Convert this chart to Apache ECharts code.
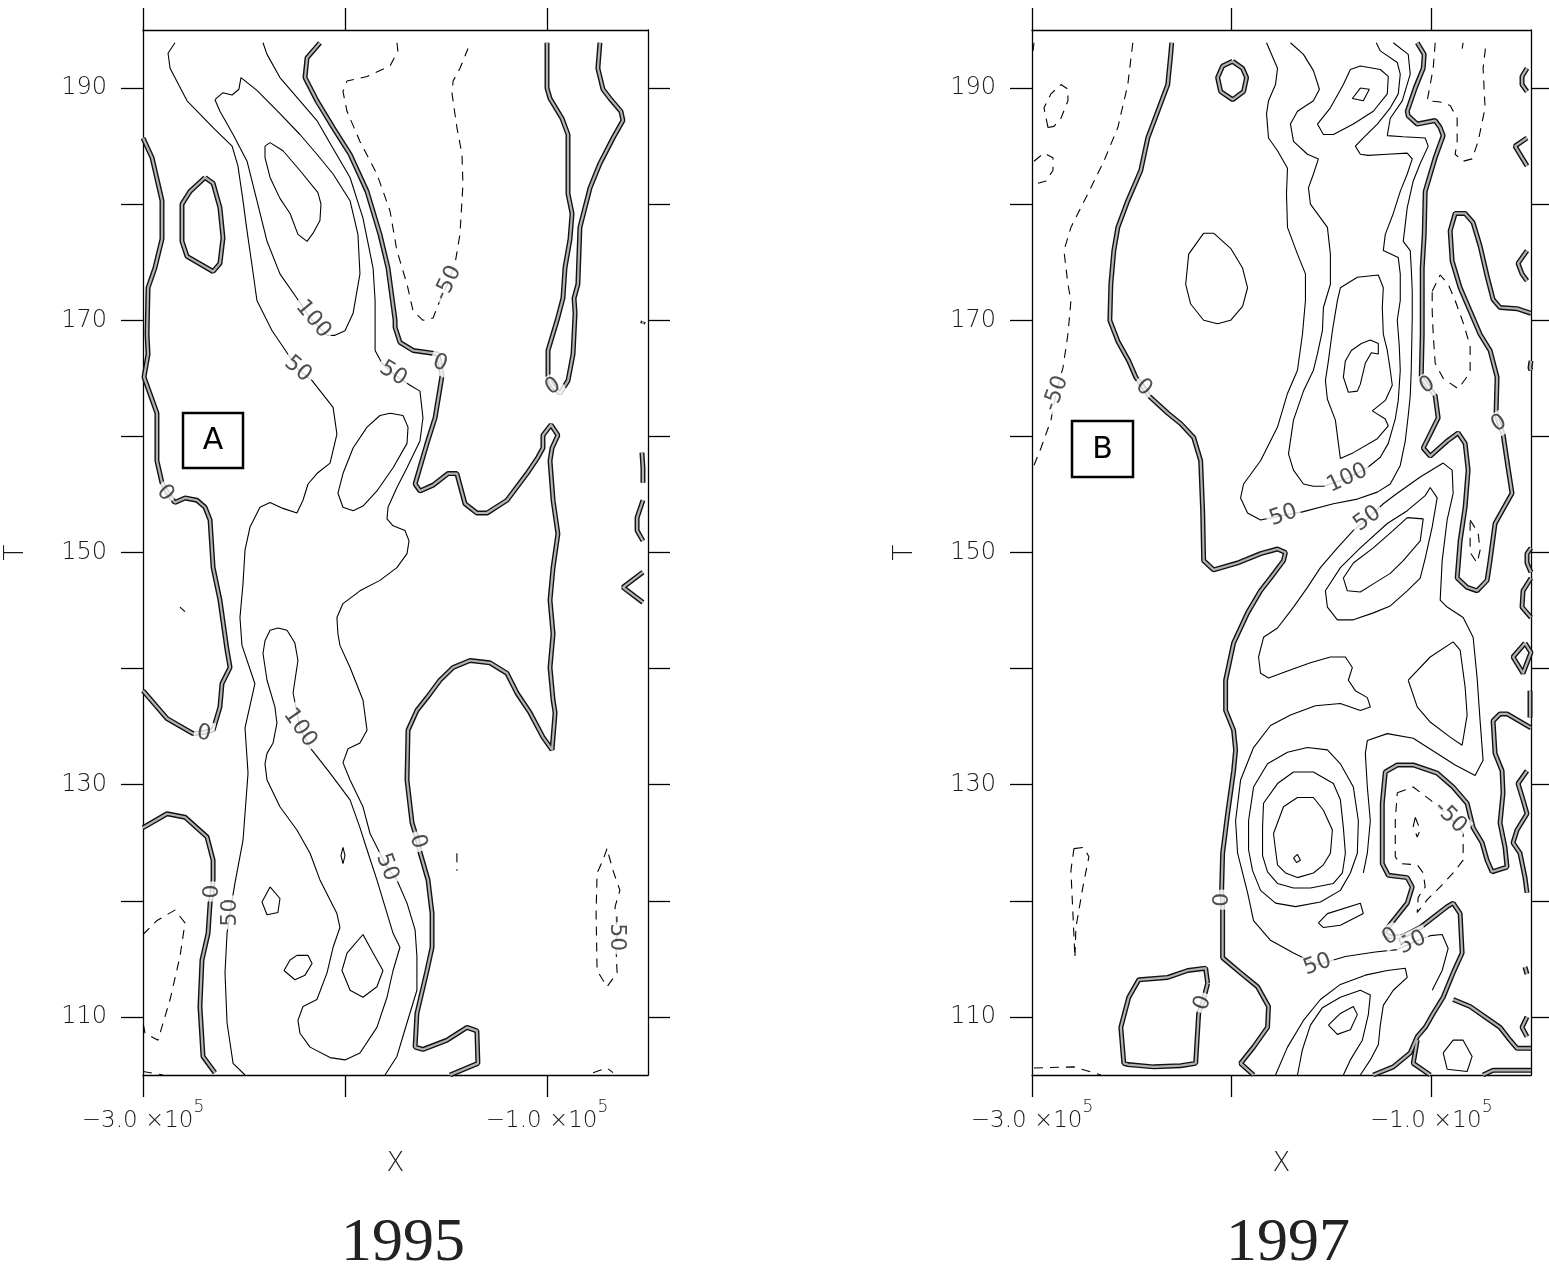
<!DOCTYPE html>
<html>
<head>
<meta charset="utf-8">
<script src="https://cdn.jsdelivr.net/npm/echarts@6/dist/echarts.min.js"></script>
<style>
  html, body { margin: 0; padding: 0; background: #fff; }
  #chart { width: 1549px; height: 1265px; }
</style>
</head>
<body>
<div id="chart"></div>
<script>
// axes: X in units of 1e5, T
const xTicks = [-3, -2, -1]
const xTickLabels = [-3, -1]
const tTicks = [110, 120, 130, 140, 150, 160, 170, 180, 190]
const tTickLabels = [110, 130, 150, 170, 190]
const panelYears = ['1995', '1997']
const panelTags = ['A', 'B']

// ---------- 1995 contours ----------
// zero contour (double line)
const zero95West = [[-3.00,185.7],[-2.955,184.0],[-2.906,180.3],[-2.906,177.0],[-2.941,174.5],[-2.975,172.8],[-2.98,168.8],[-2.975,167.1],[-2.995,165.1],[-2.931,162.0],[-2.931,157.9],[-2.906,156.0],[-2.881,155.2],[-2.842,154.3],[-2.792,154.7],[-2.733,154.5],[-2.693,153.9],[-2.668,152.8],[-2.653,148.7],[-2.619,145.9],[-2.584,141.6],[-2.569,140.1],[-2.609,138.7],[-2.619,136.7],[-2.653,134.7],[-2.703,134.5],[-2.752,134.4],[-2.881,135.7],[-3.00,138.1]]
const zero95Isle = [[-2.693,182.3],[-2.653,181.8],[-2.619,179.7],[-2.604,177.1],[-2.619,174.9],[-2.653,174.2],[-2.782,175.5],[-2.807,176.8],[-2.807,180.0],[-2.767,181.1],[-2.693,182.3]]
const zero95Mid = [[-2.124,193.9],[-2.188,192.6],[-2.198,190.9],[-2.139,188.9],[-2.059,186.6],[-1.975,184.3],[-1.891,181.1],[-1.827,177.4],[-1.787,174.5],[-1.752,170.0],[-1.752,169.4],[-1.728,168.1],[-1.663,167.4],[-1.540,167.1],[-1.530,166.3],[-1.520,165.2],[-1.554,161.6],[-1.594,159.4],[-1.653,155.9],[-1.629,155.3],[-1.564,155.8],[-1.490,156.8],[-1.446,156.8],[-1.406,154.2],[-1.347,153.4],[-1.297,153.4],[-1.198,154.5],[-1.099,156.8],[-1.045,158.2],[-1.020,159.0],[-1.020,160.1],[-0.980,161.0],[-0.946,160.1],[-0.975,159.0],[-0.985,157.9],[-0.970,154.5],[-0.946,151.6],[-0.970,148.7],[-0.985,145.9],[-0.970,143.0],[-0.985,140.1],[-0.970,137.3],[-0.960,136.2],[-0.975,133.0],[-1.020,134.1],[-1.084,136.2],[-1.149,137.9],[-1.198,139.6],[-1.282,140.5],[-1.381,140.7],[-1.465,140.1],[-1.530,139.0],[-1.594,137.5],[-1.644,136.4],[-1.688,134.7],[-1.693,130.4],[-1.668,126.7],[-1.639,125.1],[-1.629,124.2],[-1.589,121.8],[-1.569,118.9],[-1.569,116.0],[-1.594,114.0],[-1.644,110.3],[-1.653,107.4],[-1.614,107.2],[-1.495,108.0],[-1.396,109.1],[-1.347,108.8],[-1.342,106.0],[-1.480,105.0]]
const zero95East = [[-1.0,193.9],[-1.0,190.0],[-0.985,189.1],[-0.926,187.4],[-0.896,186.0],[-0.896,180.9],[-0.876,179.2],[-0.886,177.0],[-0.911,174.5],[-0.921,171.9],[-0.950,170.0],[-0.995,167.4],[-0.995,165.1],[-0.970,164.3],[-0.936,163.7],[-0.896,164.8],[-0.871,167.1],[-0.861,170.6],[-0.866,171.9],[-0.847,173.1],[-0.837,178.0],[-0.787,181.4],[-0.738,183.5],[-0.673,185.7],[-0.624,187.2],[-0.634,188.0],[-0.688,189.1],[-0.723,189.9],[-0.748,191.7],[-0.738,193.9]]
const zero95SouthWest = [[-3.0,126.3],[-2.881,127.5],[-2.792,127.2],[-2.683,125.5],[-2.653,123.5],[-2.653,121.8],[-2.658,120.8],[-2.668,119.8],[-2.678,117.2],[-2.708,114.9],[-2.718,110.9],[-2.703,106.6],[-2.644,105.2]]
const zero95Bit1 = [[-0.530,158.6],[-0.525,157.3],[-0.525,156.0]]
const zero95Bit2 = [[-0.525,154.5],[-0.554,153.0],[-0.554,151.9],[-0.525,151.0]]
const zero95Bit3 = [[-0.525,148.3],[-0.624,147.0],[-0.525,145.7]]
const zero95Dot = [[-0.523,169.9],[-0.527,169.7]]

// positive contours (50, 100, 150)
const pos95West = [[-2.842,193.9],[-2.876,193.0],[-2.866,191.7],[-2.782,188.9],[-2.653,186.6],[-2.559,185.0],[-2.530,183.3],[-2.505,180.3],[-2.485,177.7],[-2.460,174.7],[-2.436,171.7],[-2.361,169.1],[-2.287,167.2],[-2.233,165.8],[-2.163,164.8],[-2.059,162.5],[-2.040,160.2],[-2.074,157.7],[-2.139,156.8],[-2.183,155.9],[-2.208,154.5],[-2.238,153.4],[-2.307,153.8],[-2.371,154.3],[-2.421,153.9],[-2.470,152.2],[-2.495,150.2],[-2.505,147.3],[-2.520,144.4],[-2.510,142.0],[-2.446,138.7],[-2.495,134.9],[-2.480,131.0],[-2.505,125.2],[-2.545,121.5],[-2.569,119.0],[-2.584,117.2],[-2.594,113.8],[-2.584,109.5],[-2.554,106.0],[-2.495,105.0]]
const pos95NorthRing = [[-2.644,189.0],[-2.604,189.6],[-2.559,189.4],[-2.525,189.9],[-2.515,190.9],[-2.436,189.8],[-2.322,187.8],[-2.223,186.0],[-2.139,184.3],[-2.059,182.6],[-1.975,180.3],[-1.936,177.4],[-1.926,174.0],[-1.960,170.6],[-2.0,169.1],[-2.050,168.7],[-2.089,168.7],[-2.173,170.2],[-2.238,171.9],[-2.322,174.0],[-2.386,176.8],[-2.436,180.3],[-2.485,183.7],[-2.554,186.0],[-2.619,188.0],[-2.644,189.0]]
const pos95NorthCore = [[-2.396,185.0],[-2.371,185.3],[-2.307,184.6],[-2.223,182.9],[-2.134,181.0],[-2.119,180.0],[-2.124,178.6],[-2.158,177.5],[-2.188,176.8],[-2.233,177.4],[-2.272,179.2],[-2.322,180.5],[-2.371,182.3],[-2.396,184.0],[-2.396,185.0]]
const pos95Mid = [[-2.406,193.9],[-2.386,192.9],[-2.322,190.9],[-2.223,188.9],[-2.139,187.2],[-2.059,184.8],[-1.975,182.3],[-1.911,178.8],[-1.861,174.5],[-1.851,171.7],[-1.851,167.4],[-1.817,166.3],[-1.762,165.4],[-1.678,164.4],[-1.629,163.9],[-1.614,161.6],[-1.629,159.6],[-1.693,157.3],[-1.743,155.6],[-1.787,153.9],[-1.792,152.9],[-1.762,152.3],[-1.703,151.9],[-1.683,151.0],[-1.693,149.9],[-1.743,148.7],[-1.827,147.6],[-1.926,146.7],[-2.010,145.6],[-2.040,144.4],[-2.035,143.0],[-2.025,142.0],[-1.975,140.1],[-1.911,137.3],[-1.891,134.7],[-1.926,133.6],[-1.985,133.1],[-2.010,131.9],[-1.975,130.4],[-1.911,128.1],[-1.876,125.8],[-1.792,122.9],[-1.743,121.8],[-1.693,119.8],[-1.653,117.5],[-1.644,115.2],[-1.644,112.3],[-1.693,109.5],[-1.743,106.6],[-1.802,105.0]]
const pos95MidRing = [[-1.777,162.0],[-1.713,161.8],[-1.688,160.8],[-1.693,159.4],[-1.762,157.3],[-1.842,155.3],[-1.911,154.0],[-1.960,153.6],[-2.010,153.9],[-2.035,155.1],[-2.010,156.8],[-1.960,159.0],[-1.891,160.8],[-1.827,161.8],[-1.777,162.0]]
const pos95SouthRing = [[-2.332,143.5],[-2.287,143.3],[-2.248,142.2],[-2.233,140.7],[-2.257,137.9],[-2.223,134.9],[-2.173,133.2],[-2.074,131.0],[-1.975,128.7],[-1.926,126.3],[-1.891,124.4],[-1.842,121.8],[-1.762,117.2],[-1.728,116.0],[-1.762,114.0],[-1.792,111.7],[-1.842,109.1],[-1.926,106.9],[-2.0,106.3],[-2.074,106.5],[-2.173,107.4],[-2.223,108.6],[-2.233,109.7],[-2.208,110.9],[-2.139,111.5],[-2.089,113.8],[-2.059,116.0],[-2.025,117.7],[-2.040,118.9],[-2.124,121.8],[-2.173,124.1],[-2.238,126.1],[-2.322,128.1],[-2.386,130.4],[-2.396,131.8],[-2.386,132.7],[-2.356,133.6],[-2.337,135.3],[-2.347,136.7],[-2.386,139.0],[-2.406,141.3],[-2.396,142.4],[-2.371,143.3],[-2.332,143.5]]
const pos95Spot1 = [[-2.371,121.2],[-2.322,120.2],[-2.332,119.0],[-2.386,118.8],[-2.411,119.9],[-2.371,121.2]]
const pos95Spot2 = [[-2.238,115.3],[-2.183,115.3],[-2.163,114.6],[-2.198,113.6],[-2.248,113.2],[-2.302,114.0],[-2.272,114.9],[-2.238,115.3]]
const pos95Spot3 = [[-1.911,117.1],[-1.861,115.5],[-1.812,114.0],[-1.842,112.6],[-1.911,111.7],[-1.975,112.3],[-2.015,114.0],[-1.990,115.5],[-1.911,117.1]]
const pos95Spot4 = [[-2.010,124.6],[-2.0,123.9],[-2.010,123.2],[-2.020,123.9],[-2.010,124.6]]

// negative contours (-50), dashed
const neg95North = [[-1.743,193.9],[-1.738,193.2],[-1.777,191.9],[-1.891,191.0],[-1.990,190.6],[-2.010,189.7],[-1.990,188.0],[-1.926,185.4],[-1.842,182.6],[-1.777,179.4],[-1.743,176.0],[-1.693,173.1],[-1.663,170.8],[-1.614,170.0],[-1.564,170.2],[-1.530,171.7],[-1.490,173.2],[-1.455,174.9],[-1.431,177.4],[-1.416,181.7],[-1.421,184.3],[-1.446,186.6],[-1.470,189.5],[-1.465,190.6],[-1.431,191.7],[-1.391,193.4]]
const neg95SouthWest = [[-3.0,117.1],[-2.931,118.3],[-2.842,119.2],[-2.792,118.1],[-2.817,115.2],[-2.866,111.5],[-2.926,108.0],[-2.990,108.6],[-3.0,109.5]]
const neg95Corner = [[-3.0,105.3],[-2.901,105.0]]
const neg95SouthEast = [[-0.703,124.5],[-0.723,123.5],[-0.752,122.4],[-0.757,118.9],[-0.752,114.0],[-0.703,112.6],[-0.653,113.8],[-0.658,115.8],[-0.653,117.2],[-0.663,119.5],[-0.639,120.9],[-0.673,122.6],[-0.703,124.5]]
const neg95Edge = [[-0.772,105.2],[-0.703,105.6],[-0.673,105.2]]
const neg95Speck1 = [[-2.817,145.3],[-2.792,144.9]]
const neg95Speck2 = [[-1.446,124.1],[-1.446,122.6]]

// contour labels: x, T, text, rotation
const labels95 = [
  [-2.891, 155.1, '0', -50], [-2.698, 134.4, '0', -10], [-2.233, 165.8, '50', -40],
  [-2.569, 119.0, '50', 90], [-2.158, 170.1, '100', -50], [-1.762, 165.4, '50', -32],
  [-1.792, 122.9, '50', -70], [-2.223, 134.9, '100', -55], [-1.530, 166.3, '0', -20],
  [-1.639, 125.1, '0', -75], [-1.490, 173.2, '-50', 65], [-0.970, 164.3, '0', 30],
  [-2.658, 120.8, '0', 90], [-0.653, 117.2, '-50', -90]
]

// ---------- 1997 contours ----------
const zero97West = [[-2.30,193.9],[-2.305,192.9],[-2.32,190.3],[-2.37,188.0],[-2.42,185.7],[-2.455,182.9],[-2.52,180.3],[-2.57,178.0],[-2.59,176.0],[-2.605,173.1],[-2.61,170.0],[-2.57,168.2],[-2.515,166.5],[-2.48,165.1],[-2.44,164.2],[-2.415,163.5],[-2.32,162.0],[-2.255,161.1],[-2.19,159.9],[-2.155,157.9],[-2.145,153.6],[-2.14,149.3],[-2.09,148.5],[-1.97,149.1],[-1.855,149.9],[-1.77,150.3],[-1.73,150.0],[-1.74,149.3],[-1.805,147.8],[-1.855,146.7],[-1.92,144.8],[-1.99,142.2],[-2.03,139.0],[-2.03,136.4],[-1.99,134.7],[-1.98,133.0],[-1.99,131.2],[-2.02,127.5],[-2.045,124.1],[-2.05,120.9],[-2.045,120.1],[-2.045,119.2],[-2.045,115.1],[-1.955,113.8],[-1.87,112.6],[-1.815,110.9],[-1.82,109.1],[-1.89,107.4],[-1.955,106.0],[-1.89,105.0]]
const zero97Oval = [[-1.995,192.3],[-1.945,191.7],[-1.925,190.9],[-1.94,189.7],[-1.995,189.0],[-2.055,189.7],[-2.07,190.9],[-2.045,191.9],[-1.995,192.3]]
const zero97East = [[-1.07,193.9],[-1.035,192.9],[-1.04,191.7],[-1.08,190.0],[-1.12,188.0],[-1.115,187.6],[-1.07,186.9],[-0.98,187.2],[-0.955,186.6],[-0.94,185.9],[-0.98,184.0],[-1.03,181.1],[-1.035,177.4],[-1.045,174.5],[-1.045,171.7],[-1.045,168.8],[-1.05,165.1],[-1.02,164.4],[-0.98,163.5],[-0.965,161.6],[-1.005,160.2],[-1.04,159.0],[-1.005,158.3],[-0.92,159.6],[-0.865,160.3],[-0.83,159.4],[-0.815,157.1],[-0.83,153.9],[-0.855,151.0],[-0.87,147.8],[-0.82,147.0],[-0.77,146.7],[-0.72,147.6],[-0.705,149.3],[-0.68,152.5],[-0.595,155.1],[-0.615,157.3],[-0.64,160.2],[-0.66,161.1],[-0.675,162.0],[-0.67,165.1],[-0.705,167.4],[-0.755,168.8],[-0.805,170.8],[-0.855,172.8],[-0.895,175.1],[-0.905,177.7],[-0.88,179.2],[-0.83,179.2],[-0.79,178.4],[-0.755,176.4],[-0.72,173.8],[-0.69,171.8],[-0.655,171.1],[-0.57,171.0],[-0.50,170.6]]
const zero97South = [[-1.29,105.0],[-1.19,105.7],[-1.105,106.9],[-1.07,108.3],[-1.03,109.1],[-0.99,110.3],[-0.94,111.7],[-0.89,113.8],[-0.845,115.5],[-0.855,118.9],[-0.89,119.8],[-0.92,119.5],[-1.055,117.7],[-1.145,116.9],[-1.205,116.9],[-1.24,117.2],[-1.19,118.3],[-1.12,119.8],[-1.095,121.2],[-1.12,122.0],[-1.215,122.2],[-1.245,123.2],[-1.245,128.4],[-1.23,131.1],[-1.17,131.7],[-1.09,131.7],[-0.97,131.0],[-0.89,129.8],[-0.82,128.4],[-0.79,126.3],[-0.745,125.0],[-0.72,123.5],[-0.695,122.5],[-0.62,122.9],[-0.63,124.6],[-0.655,126.7],[-0.64,129.3],[-0.645,131.2],[-0.68,132.7],[-0.69,135.5],[-0.655,136.1],[-0.62,136.1],[-0.50,134.9]]
const zero97Spur = [[-1.005,105.0],[-1.09,106.0],[-1.07,108.0]]
const zero97Edge1 = [[-0.89,111.5],[-0.805,110.9],[-0.655,109.1],[-0.605,108.0],[-0.57,107.3],[-0.50,107.3]]
const zero97Edge2 = [[-0.74,105.0],[-0.69,105.4],[-0.50,105.4]]
const zero97Box = [[-2.12,112.9],[-2.13,114.2],[-2.22,114.0],[-2.32,113.4],[-2.465,113.2],[-2.515,111.7],[-2.555,109.1],[-2.54,106.0],[-2.52,105.9],[-2.39,105.7],[-2.255,105.8],[-2.18,106.0],[-2.165,110.3],[-2.145,111.2],[-2.12,112.9]]
const zero97Bit1 = [[-0.52,191.7],[-0.545,191.0],[-0.545,190.3],[-0.52,189.7]]
const zero97Bit2 = [[-0.52,185.7],[-0.58,185.0],[-0.52,183.3]]
const zero97Bit3 = [[-0.52,176.0],[-0.565,174.9],[-0.545,174.0],[-0.52,173.4]]
const zero97Bit4 = [[-0.5,166.5],[-0.505,165.9],[-0.5,165.7]]
const zero97Bit5 = [[-0.5,150.4],[-0.52,149.9],[-0.52,149.1],[-0.5,148.3]]
const zero97Bit6 = [[-0.5,147.8],[-0.54,146.7],[-0.545,145.3],[-0.5,144.4]]
const zero97Bit7 = [[-0.53,142.2],[-0.5,141.4],[-0.54,139.6],[-0.59,141.0],[-0.53,142.2]]
const zero97Bit8 = [[-0.505,138.1],[-0.505,135.8]]
const zero97Bit9 = [[-0.52,131.2],[-0.565,130.1],[-0.54,128.7],[-0.52,127.5],[-0.57,126.1],[-0.59,125.0],[-0.555,124.1],[-0.53,122.0],[-0.52,120.7]]
const zero97Bit10 = [[-0.53,114.3],[-0.52,113.7]]
const zero97Bit11 = [[-0.52,110.0],[-0.545,109.1],[-0.52,108.3]]

const pos97WestOval = [[-2.14,177.5],[-2.09,177.5],[-2.005,176.2],[-1.945,174.5],[-1.92,172.8],[-1.945,171.2],[-2.005,170.0],[-2.07,169.7],[-2.14,170.0],[-2.205,171.4],[-2.23,173.1],[-2.215,175.7],[-2.14,177.5]]
const pos97Outer = [[-1.825,193.9],[-1.77,191.7],[-1.78,190.3],[-1.815,188.9],[-1.825,187.8],[-1.815,185.7],[-1.77,184.6],[-1.72,183.1],[-1.725,180.9],[-1.72,178.0],[-1.67,175.7],[-1.63,174.0],[-1.63,171.7],[-1.645,168.8],[-1.67,165.7],[-1.72,163.7],[-1.77,160.8],[-1.855,157.9],[-1.94,155.9],[-1.955,154.7],[-1.92,153.4],[-1.855,152.8],[-1.74,153.2],[-1.645,153.5],[-1.49,154.2],[-1.37,154.6],[-1.27,155.2],[-1.205,155.9],[-1.155,157.5],[-1.13,159.6],[-1.115,161.8],[-1.105,163.5],[-1.10,165.7],[-1.095,170.2],[-1.095,172.5],[-1.10,174.5],[-1.105,176.0],[-1.14,176.8],[-1.12,179.7],[-1.09,182.0],[-1.055,183.5],[-1.015,185.0],[-1.03,185.7],[-1.14,185.8],[-1.22,185.9],[-1.205,187.4],[-1.145,188.9],[-1.105,191.2],[-1.115,192.9],[-1.19,193.9]]
const pos97Inner = [[-1.705,193.9],[-1.64,192.9],[-1.59,191.5],[-1.56,189.9],[-1.59,188.9],[-1.67,188.0],[-1.705,186.9],[-1.69,185.4],[-1.62,184.3],[-1.565,183.9],[-1.59,182.6],[-1.615,181.4],[-1.605,180.0],[-1.52,178.0],[-1.505,175.7],[-1.505,173.1],[-1.54,171.1],[-1.545,169.1],[-1.57,167.1],[-1.59,165.7],[-1.64,163.9],[-1.69,161.4],[-1.715,158.5],[-1.69,157.1],[-1.64,155.9],[-1.59,155.7],[-1.54,155.7],[-1.42,156.4],[-1.32,157.3],[-1.255,158.2],[-1.215,159.4],[-1.18,161.5],[-1.165,163.1],[-1.155,165.7],[-1.16,167.8],[-1.17,170.0],[-1.155,171.7],[-1.155,174.0],[-1.165,175.4],[-1.24,176.0],[-1.23,177.4],[-1.19,179.2],[-1.155,181.1],[-1.12,182.6],[-1.095,183.9],[-1.12,184.4],[-1.22,184.3],[-1.315,184.2],[-1.355,184.3],[-1.38,185.0],[-1.34,185.7],[-1.27,186.9],[-1.205,188.3],[-1.165,189.5],[-1.155,191.2],[-1.17,192.2],[-1.255,193.2],[-1.275,193.9]]
const pos97Cap = [[-1.405,191.6],[-1.355,191.9],[-1.255,191.6],[-1.215,191.0],[-1.22,189.5],[-1.29,188.0],[-1.39,186.9],[-1.49,186.0],[-1.54,186.0],[-1.57,186.9],[-1.505,188.3],[-1.44,190.3],[-1.405,191.6]]
const pos97CapCore = [[-1.355,190.0],[-1.31,189.9],[-1.34,188.9],[-1.395,189.1],[-1.355,190.0]]
const pos97Lobe = [[-1.47,171.7],[-1.455,172.8],[-1.37,173.7],[-1.265,173.9],[-1.24,172.8],[-1.245,171.1],[-1.24,168.8],[-1.22,167.4],[-1.205,165.7],[-1.195,164.4],[-1.23,163.1],[-1.295,162.2],[-1.23,161.5],[-1.215,160.9],[-1.27,159.8],[-1.39,158.6],[-1.455,158.1],[-1.465,159.4],[-1.48,161.4],[-1.52,163.2],[-1.53,164.8],[-1.515,166.5],[-1.495,169.1],[-1.47,171.7]]
const pos97LobeCore = [[-1.43,166.5],[-1.44,165.1],[-1.415,163.8],[-1.37,163.9],[-1.355,164.5],[-1.33,166.3],[-1.30,167.2],[-1.265,167.1],[-1.265,168.0],[-1.305,168.3],[-1.35,168.0],[-1.40,167.4],[-1.43,166.5]]
const pos97Belt = [[-1.34,122.4],[-1.32,124.1],[-1.305,126.9],[-1.32,129.8],[-1.33,132.7],[-1.32,133.8],[-1.22,134.4],[-1.09,134.0],[-0.98,132.8],[-0.88,131.7],[-0.78,130.8],[-0.74,132.1],[-0.755,135.5],[-0.77,139.2],[-0.79,142.7],[-0.84,144.4],[-0.92,145.3],[-0.955,145.9],[-0.945,149.3],[-0.92,152.8],[-0.89,155.1],[-0.895,157.1],[-0.94,157.7],[-1.055,156.5],[-1.17,155.1],[-1.24,154.2],[-1.32,152.9],[-1.39,151.9],[-1.47,150.4],[-1.555,148.7],[-1.62,147.0],[-1.69,145.3],[-1.77,143.5],[-1.84,142.7],[-1.865,141.0],[-1.855,139.6],[-1.815,139.2],[-1.72,139.8],[-1.605,140.5],[-1.505,141.0],[-1.43,141.0],[-1.395,140.1],[-1.415,139.0],[-1.38,138.1],[-1.32,137.5],[-1.305,136.7],[-1.355,136.4],[-1.455,137.0],[-1.58,136.8],[-1.705,136.0],[-1.805,135.1],[-1.89,133.2],[-1.955,130.4],[-1.98,126.9],[-1.97,124.1],[-1.92,120.7],[-1.89,118.3],[-1.805,116.6],[-1.69,115.5],[-1.57,114.5],[-1.43,115.2],[-1.28,115.6],[-1.17,115.8],[-1.095,116.4],[-1.005,117.0],[-0.945,117.1],[-0.915,115.9],[-0.945,114.0],[-0.995,112.3]]
const pos97Eye1 = [[-1.915,126.9],[-1.89,129.8],[-1.82,131.8],[-1.72,132.8],[-1.62,133.2],[-1.52,133.0],[-1.455,131.8],[-1.39,129.8],[-1.365,126.9],[-1.37,124.1],[-1.405,122.4],[-1.455,120.9],[-1.555,119.9],[-1.68,119.5],[-1.78,119.8],[-1.855,120.9],[-1.895,122.6],[-1.915,124.4],[-1.915,126.9]]
const pos97Eye2 = [[-1.845,126.3],[-1.84,128.4],[-1.77,130.1],[-1.69,131.1],[-1.59,131.1],[-1.49,130.1],[-1.455,128.7],[-1.44,126.3],[-1.43,124.1],[-1.445,122.4],[-1.49,121.5],[-1.605,121.1],[-1.69,121.1],[-1.77,121.5],[-1.82,122.5],[-1.845,123.9],[-1.845,126.3]]
const pos97Eye3 = [[-1.79,125.8],[-1.74,128.1],[-1.67,128.9],[-1.59,128.9],[-1.54,127.8],[-1.495,126.1],[-1.505,124.1],[-1.54,123.1],[-1.59,122.4],[-1.67,122.0],[-1.73,122.4],[-1.77,123.1],[-1.78,124.4],[-1.79,125.8]]
const pos97Eye4 = [[-1.69,123.7],[-1.67,124.0],[-1.655,123.5],[-1.675,123.3],[-1.69,123.7]]
const pos97Sliver = [[-1.565,118.1],[-1.52,118.9],[-1.355,119.8],[-1.34,118.9],[-1.455,117.9],[-1.54,117.7],[-1.565,118.1]]
const pos97Wedge = [[-1.115,139.0],[-1.005,141.0],[-0.89,142.3],[-0.855,141.6],[-0.83,138.4],[-0.82,136.0],[-0.845,133.4],[-0.905,134.1],[-1.005,135.4],[-1.07,136.7],[-1.115,139.0]]
const pos97Diag1 = [[-1.005,155.6],[-0.97,154.7],[-0.995,152.2],[-1.03,149.5],[-1.055,147.8],[-1.12,146.7],[-1.205,145.4],[-1.29,144.8],[-1.39,144.2],[-1.47,144.2],[-1.52,145.3],[-1.53,146.7],[-1.455,148.7],[-1.355,150.4],[-1.22,152.5],[-1.12,153.6],[-1.03,154.9],[-1.005,155.6]]
const pos97Diag2 = [[-1.12,153.0],[-1.04,152.9],[-1.055,151.0],[-1.14,149.3],[-1.205,148.2],[-1.29,147.3],[-1.355,146.6],[-1.42,146.7],[-1.44,147.8],[-1.39,149.1],[-1.29,150.4],[-1.19,151.9],[-1.12,153.0]]
const pos97Fan = [[-1.78,105.0],[-1.72,107.4],[-1.64,109.7],[-1.555,111.5],[-1.455,112.8],[-1.33,113.6],[-1.22,114.0],[-1.13,114.2],[-1.12,113.4],[-1.19,112.3],[-1.24,111.0],[-1.255,109.3],[-1.265,107.6],[-1.305,106.3],[-1.355,105.0]]
const pos97FanCore = [[-1.67,105.0],[-1.645,107.2],[-1.605,109.3],[-1.545,110.8],[-1.455,111.7],[-1.355,112.3],[-1.305,111.9],[-1.315,110.2],[-1.345,108.0],[-1.405,106.3],[-1.44,105.0]]
const pos97FanSpot = [[-1.515,109.3],[-1.455,110.3],[-1.39,110.9],[-1.37,110.2],[-1.405,108.9],[-1.47,108.5],[-1.515,109.3]]
const pos97Knot = [[-0.94,106.9],[-0.89,108.0],[-0.84,108.0],[-0.795,106.6],[-0.82,105.3],[-0.92,105.5],[-0.94,106.9]]

const neg97West = [[-2.495,193.9],[-2.52,190.3],[-2.57,186.6],[-2.64,183.7],[-2.72,180.9],[-2.805,178.0],[-2.84,176.0],[-2.82,173.1],[-2.805,171.7],[-2.82,168.8],[-2.845,165.9],[-2.88,163.7],[-2.905,161.4],[-2.955,159.0],[-2.995,157.3]]
const neg97Corner = [[-2.99,193.9],[-2.995,193.2]]
const neg97Ring1 = [[-2.92,186.6],[-2.94,188.3],[-2.905,189.5],[-2.855,190.3],[-2.82,189.9],[-2.82,188.9],[-2.855,187.4],[-2.89,186.7],[-2.92,186.6]]
const neg97Ring2 = [[-2.99,183.7],[-2.94,184.4],[-2.895,184.0],[-2.895,182.9],[-2.93,182.0],[-2.97,181.8]]
const neg97NorthEast = [[-0.98,193.9],[-0.99,191.7],[-1.02,188.9],[-0.955,188.8],[-0.905,188.5],[-0.87,187.4],[-0.87,185.4],[-0.88,184.3],[-0.84,183.7],[-0.795,183.9],[-0.765,185.4],[-0.73,188.3],[-0.74,191.7],[-0.725,193.9]]
const neg97Tick = [[-0.84,193.9],[-0.845,193.4]]
const neg97Pocket = [[-0.995,172.5],[-0.955,173.9],[-0.915,173.1],[-0.88,171.7],[-0.84,169.8],[-0.805,167.8],[-0.805,165.5],[-0.865,164.1],[-0.94,165.0],[-0.98,166.3],[-0.99,168.8],[-0.995,170.8],[-0.995,172.5]]
const neg97Pocket2 = [[-0.805,152.8],[-0.765,151.7],[-0.755,150.2],[-0.77,149.1],[-0.805,150.0],[-0.805,151.7],[-0.805,152.8]]
const neg97East = [[-1.17,129.3],[-1.09,129.8],[-1.005,128.7],[-0.905,127.2],[-0.84,125.8],[-0.84,123.5],[-0.89,122.4],[-0.955,121.2],[-1.02,120.1],[-1.07,119.0],[-1.065,120.3],[-1.03,121.2],[-1.04,122.4],[-1.07,123.1],[-1.155,123.2],[-1.18,123.8],[-1.18,126.9],[-1.17,129.3]]
const neg97EastCore = [[-1.08,127.2],[-1.055,126.1],[-1.07,125.5],[-1.09,126.4],[-1.08,127.2]]
const neg97Floor = [[-2.99,105.6],[-2.79,105.7],[-2.655,105.0]]
const neg97Sliver = [[-2.79,124.5],[-2.74,124.6],[-2.715,123.8],[-2.745,121.2],[-2.78,117.7],[-2.785,115.1],[-2.795,118.9],[-2.805,122.6],[-2.79,124.5]]

const labels97 = [
  [-2.88, 163.7, '-50', 70], [-2.44, 164.2, '0', -40], [-2.045, 120.1, '0', 90],
  [-1.42, 156.4, '100', 25], [-1.74, 153.2, '50', 20], [-1.32, 152.9, '50', 35],
  [-1.57, 114.5, '50', 20], [-1.095, 116.4, '50', 25], [-1.205, 116.9, '0', 30],
  [-0.905, 127.2, '-50', -45], [-1.02, 164.4, '0', 30], [-0.66, 161.1, '0', 30],
  [-2.145, 111.2, '0', 70]
]

const panels = [
  {
    zero: [zero95West, zero95Isle, zero95Mid, zero95East, zero95SouthWest, zero95Bit1, zero95Bit2, zero95Bit3, zero95Dot],
    pos: [pos95West, pos95NorthRing, pos95NorthCore, pos95Mid, pos95MidRing, pos95SouthRing, pos95Spot1, pos95Spot2, pos95Spot3, pos95Spot4],
    neg: [neg95North, neg95SouthWest, neg95Corner, neg95SouthEast, neg95Edge, neg95Speck1, neg95Speck2],
    labels: labels95
  },
  {
    zero: [zero97West, zero97Oval, zero97East, zero97South, zero97Spur, zero97Edge1, zero97Edge2, zero97Box, zero97Bit1, zero97Bit2, zero97Bit3, zero97Bit4, zero97Bit5, zero97Bit6, zero97Bit7, zero97Bit8, zero97Bit9, zero97Bit10, zero97Bit11],
    pos: [pos97WestOval, pos97Outer, pos97Inner, pos97Cap, pos97CapCore, pos97Lobe, pos97LobeCore, pos97Belt, pos97Eye1, pos97Eye2, pos97Eye3, pos97Eye4, pos97Sliver, pos97Wedge, pos97Diag1, pos97Diag2, pos97Fan, pos97FanCore, pos97FanSpot, pos97Knot],
    neg: [neg97West, neg97Corner, neg97Ring1, neg97Ring2, neg97NorthEast, neg97Tick, neg97Pocket, neg97Pocket2, neg97East, neg97EastCore, neg97Floor, neg97Sliver],
    labels: labels97
  }
]

const font = "'DejaVu Sans', sans-serif"
const ink = '#1a1a1a'

const chart = echarts.init(document.getElementById('chart'), null, { renderer: 'canvas' })

const lineOf = (data, g, style, z) => ({
  type: 'line', xAxisIndex: g * 2, yAxisIndex: g * 2, data,
  symbol: 'none', silent: true, animation: false, z, lineStyle: style
})

// contour label look, also repeated per item so rotation keeps the same style
const contourLabel = {
  show: true, position: 'inside', color: '#222', fontFamily: font, fontWeight: 'normal',
  fontSize: 22, backgroundColor: '#fff', padding: [1, 3]
}

const series = []
panels.forEach((p, g) => {
  p.pos.forEach(d => series.push(lineOf(d, g, { color: '#000', width: 1.1 }, 2)))
  p.neg.forEach(d => series.push(lineOf(d, g, { color: '#000', width: 1.1, type: [9, 7] }, 2)))
  // zero line drawn as a double line: dark body + light core
  p.zero.forEach(d => series.push(lineOf(d, g, { color: '#111', width: 5 }, 3)))
  p.zero.forEach(d => series.push(lineOf(d, g, { color: '#b4b4b4', width: 2.2 }, 4)))
  series.push({
    type: 'scatter', xAxisIndex: g * 2, yAxisIndex: g * 2, symbolSize: 0, silent: true,
    animation: false, z: 6, zlevel: 0,
    label: contourLabel,
    data: p.labels.map(l => ({
      value: [l[0], l[1]],
      label: Object.assign({}, contourLabel, { formatter: l[2], rotate: l[3] })
    }))
  })
})

const grids = [
  { left: 143, top: 30, width: 505, height: 1045 },
  { left: 1032, top: 30, width: 499, height: 1045 }
]

const axisLine = { show: true, onZero: false, lineStyle: { color: '#000', width: 1.3 } }
const tickStyle = { color: '#000', width: 1.3 }
const xAxis = []
const yAxis = []
grids.forEach((gr, g) => {
  xAxis.push({
    type: 'value', gridIndex: g, position: 'bottom', min: -3, max: -0.5,
    axisLine, splitLine: { show: false },
    axisTick: { show: true, customValues: xTicks, length: 22, lineStyle: tickStyle },
    axisLabel: {
      customValues: xTickLabels, margin: 24, showMinLabel: true, hideOverlap: false,
      formatter: v => '{m|−' + Math.abs(v).toFixed(1) + ' ×10}{e|5}',
      rich: {
        m: { fontSize: 23, fontFamily: font, fontWeight: 200, color: ink, lineHeight: 34, verticalAlign: 'bottom' },
        e: { fontSize: 17, fontFamily: font, fontWeight: 200, color: ink, lineHeight: 17, verticalAlign: 'top' }
      }
    },
    name: 'X', nameLocation: 'middle', nameGap: 76,
    nameTextStyle: { fontSize: 26, fontFamily: font, fontWeight: 200, color: ink }
  })
  xAxis.push({
    type: 'value', gridIndex: g, position: 'top', min: -3, max: -0.5,
    axisLine, splitLine: { show: false }, axisLabel: { show: false },
    axisTick: { show: true, customValues: xTicks, length: 22, lineStyle: tickStyle }
  })
  yAxis.push({
    type: 'value', gridIndex: g, position: 'left', min: 105, max: 195,
    axisLine, splitLine: { show: false },
    axisTick: { show: true, customValues: tTicks, length: 22, lineStyle: tickStyle },
    axisLabel: { customValues: tTickLabels, margin: 36, fontSize: 24, fontFamily: font, fontWeight: 200, color: ink },
    name: 'T', nameLocation: 'middle', nameGap: 114, nameRotate: 90,
    nameTextStyle: { fontSize: 26, fontFamily: font, fontWeight: 200, color: ink }
  })
  yAxis.push({
    type: 'value', gridIndex: g, position: 'right', min: 105, max: 195,
    axisLine, splitLine: { show: false }, axisLabel: { show: false },
    axisTick: { show: true, customValues: tTicks, length: 22, lineStyle: tickStyle }
  })
})

const tagBoxes = [[183, 413, 60, 55], [1072, 421, 61, 56]]
const graphic = []
tagBoxes.forEach((b, i) => {
  graphic.push({ type: 'rect', shape: { x: b[0], y: b[1], width: b[2], height: b[3] },
    style: { fill: '#fff', stroke: '#000', lineWidth: 2.5 }, z: 100 })
  graphic.push({ type: 'text', x: b[0] + b[2] / 2, y: b[1] + b[3] / 2 + 1, z: 101,
    style: { text: panelTags[i], fill: '#000', font: '30px ' + font,
      textAlign: 'center', textVerticalAlign: 'middle', align: 'center', verticalAlign: 'middle' } })
})

chart.setOption({
  animation: false,
  backgroundColor: '#fff',
  title: panelYears.map((t, i) => ({
    text: t, left: i === 0 ? 398 : 1283, top: 1208, textAlign: 'center',
    textStyle: { fontFamily: "'Liberation Serif', serif", fontSize: 62, fontWeight: 'normal', color: '#222' }
  })),
  grid: grids,
  xAxis,
  yAxis,
  series,
  graphic
})
</script>
</body>
</html>
